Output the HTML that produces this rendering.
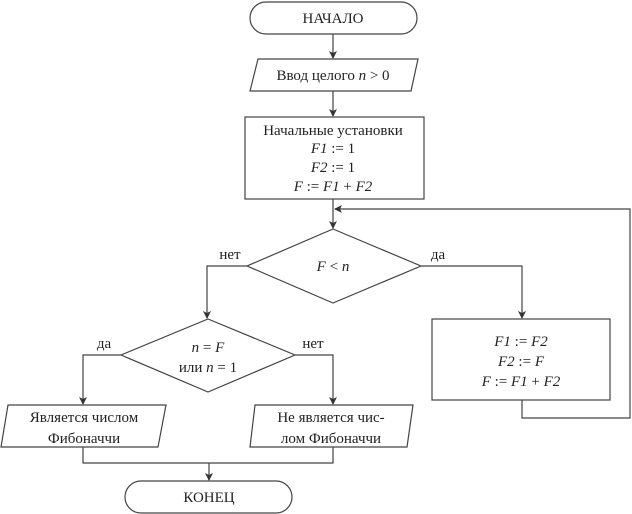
<!DOCTYPE html>
<html><head><meta charset="utf-8"><style>
html,body{margin:0;padding:0;background:#fff;}
svg{display:block}
text{font-family:"Liberation Serif",serif;font-size:15px;fill:#222;}
.i{font-style:italic}
</style></head><body>
<svg width="632" height="514" viewBox="0 0 632 514" xmlns="http://www.w3.org/2000/svg">
<defs><marker id="a" markerWidth="8" markerHeight="8" refX="7" refY="4" orient="auto" markerUnits="userSpaceOnUse"><path d="M0,0 L8,4 L0,8 L2,4 z" fill="#333"/></marker></defs>
<g fill="none" stroke="#444" stroke-width="1.2">
<rect x="250" y="2" width="167" height="32" rx="16"/>
<path d="M333,34 V58" marker-end="url(#a)"/>
<polygon points="258,59 418,59 411,91 250,91"/>
<path d="M333,91 V116" marker-end="url(#a)"/>
<rect x="245" y="117" width="179" height="82"/>
<path d="M333,199 V228" marker-end="url(#a)"/>
<path d="M522,400 V418 H630 V209 H335" marker-end="url(#a)"/>
<polygon points="333,229 421,266 333,303 247,266"/>
<path d="M247,266 H207 V318" marker-end="url(#a)"/>
<path d="M421,266 H522 V318" marker-end="url(#a)"/>
<rect x="432" y="319" width="178" height="81"/>
<polygon points="208,319 295,355 208,392 121,355"/>
<path d="M121,355 H83 V404" marker-end="url(#a)"/>
<path d="M295,355 H333 V404" marker-end="url(#a)"/>
<polygon points="8,405 166,405 158,447 1,447"/>
<polygon points="255,405 413,405 407,447 250,447"/>
<path d="M83,447 V463 H333 V447"/>
<path d="M209,463 V480" marker-end="url(#a)"/>
<rect x="125" y="481" width="167" height="32" rx="16"/>
</g>
<g text-anchor="middle">
<text x="333" y="23">НАЧАЛО</text>
<text x="333" y="80">Ввод целого <tspan class="i">n</tspan> &gt; 0</text>
<text x="333" y="135">Начальные установки</text>
<text x="333" y="153" class="i">F1 <tspan font-style="normal">:= 1</tspan></text>
<text x="333" y="172" class="i">F2 <tspan font-style="normal">:= 1</tspan></text>
<text x="333" y="191"><tspan class="i">F</tspan> := <tspan class="i">F1</tspan> + <tspan class="i">F2</tspan></text>
<text x="333" y="271"><tspan class="i">F</tspan> &lt; <tspan class="i">n</tspan></text>
<text x="230" y="259">нет</text>
<text x="438" y="259">да</text>
<text x="208" y="352"><tspan class="i">n</tspan> = <tspan class="i">F</tspan></text>
<text x="208" y="372">или <tspan class="i">n</tspan> = 1</text>
<text x="104" y="348">да</text>
<text x="313" y="348">нет</text>
<text x="521" y="346" class="i">F1 <tspan font-style="normal">:=</tspan> F2</text>
<text x="521" y="366" class="i">F2 <tspan font-style="normal">:=</tspan> F</text>
<text x="521" y="386"><tspan class="i">F</tspan> := <tspan class="i">F1</tspan> + <tspan class="i">F2</tspan></text>
<text x="84" y="422">Является числом</text>
<text x="84" y="443">Фибоначчи</text>
<text x="331" y="422">Не является чис-</text>
<text x="331" y="443">лом Фибоначчи</text>
<text x="209" y="502">КОНЕЦ</text>
</g>
</svg>
</body></html>
